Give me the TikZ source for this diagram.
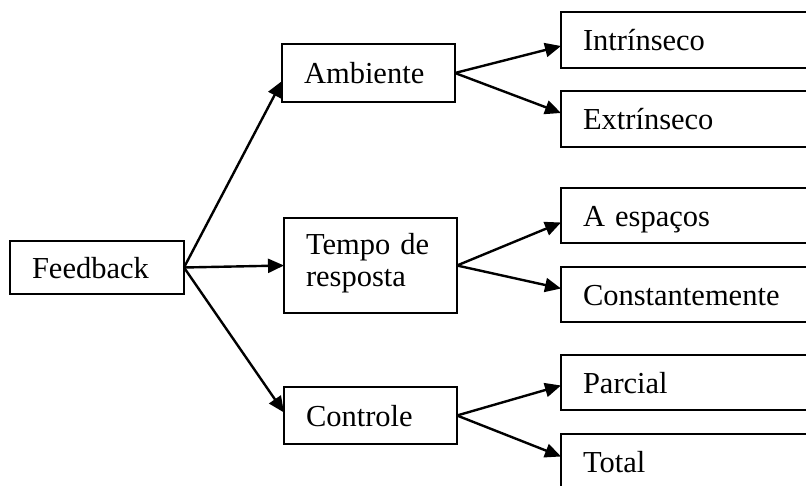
\documentclass[tikz,border=0pt]{standalone}
\usepackage{fontspec}
\setmainfont{Liberation Serif}
\usetikzlibrary{arrows.meta,calc}
\begin{document}
\begin{tikzpicture}[x=1pt,y=-1pt,
  box/.style={draw, line width=2.4pt, rectangle, anchor=north west, outer sep=0pt,
    inner xsep=22pt, inner ysep=0pt, align=left,
    font=\fontsize{30.5}{32}\selectfont, text height=22pt, text depth=0pt},
  conn/.style={line width=2.4pt, -{Triangle[length=16pt,width=14pt]}}]
\useasboundingbox (0,0) rectangle (806,486);
\clip (0,0) rectangle (806,486);
% left and middle boxes
\node[box, text width=130pt, minimum height=53pt] (fb) at (10,241) {Feedback};
\node[box, text width=129pt, minimum height=58pt] (amb) at (282,44) {Ambiente};
\node[box, text width=129pt, minimum height=95pt, text depth=43pt] (tmp) at (284,218) {Tempo de\\resposta};
\node[box, text width=129pt, minimum height=57pt] (ctl) at (284,387) {Controle};
% right boxes
\node[box, text width=225pt, minimum height=56pt] (r1) at (561,12) {Intrínseco};
\node[box, text width=225pt, minimum height=56pt] (r2) at (561,91) {Extrínseco};
\node[box, text width=225pt, minimum height=55pt] (r3) at (561,188) {A espaços};
\node[box, text width=225pt, minimum height=55pt] (r4) at (561,267) {Constantemente};
\node[box, text width=225pt, minimum height=55pt] (r5) at (561,355) {Parcial};
\node[box, text width=225pt, minimum height=55pt] (r6) at (561,434) {Total};
% connectors
\draw[conn] (fb.east) -- ($(amb.west)+(0,8)$);
\draw[conn] (fb.east) -- (tmp.west);
\draw[conn] (fb.east) -- ($(ctl.west)+(0,-3)$);
\draw[conn] (amb.east) -- ($(r1.west)+(0,6)$);
\draw[conn] (amb.east) -- ($(r2.west)+(0,-6)$);
\draw[conn] (tmp.east) -- ($(r3.west)+(0,7)$);
\draw[conn] (tmp.east) -- ($(r4.west)+(0,-6)$);
\draw[conn] (ctl.east) -- ($(r5.west)+(0,3)$);
\draw[conn] (ctl.east) -- ($(r6.west)+(0,-5)$);
\end{tikzpicture}
\end{document}
